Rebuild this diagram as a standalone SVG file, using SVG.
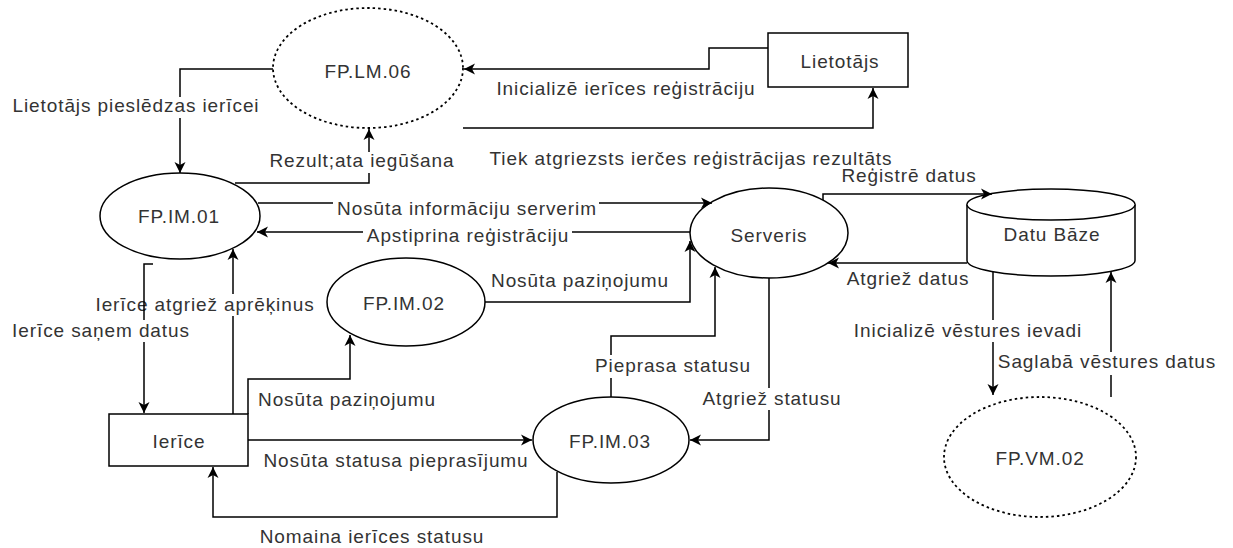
<svg xmlns="http://www.w3.org/2000/svg" width="1233" height="548" viewBox="0 0 1233 548">
  <style>
    text { font-family: "Liberation Sans", Arial, Helvetica, sans-serif; font-size: 19px; fill: #333333; letter-spacing: 0.9px; text-anchor: middle; }
    .shape { fill: #ffffff; stroke: #000000; stroke-width: 1.5; }
    .ext { fill: #ffffff; stroke: #000000; stroke-width: 1.8; stroke-dasharray: 2.5 3; }
    .flow { fill: none; stroke: #000000; stroke-width: 1.5; marker-end: url(#arrow); }
    .bg { fill: #ffffff; stroke: none; }
  </style>
  <defs>
    <marker id="arrow" viewBox="-12 -7 13 14" refX="0" refY="0" markerWidth="13" markerHeight="14" markerUnits="userSpaceOnUse" orient="auto">
      <path d="M0,0 L-11,-5.5 L-8,0 L-11,5.5 Z" fill="#000000"/>
    </marker>
  </defs>
  <rect width="1233" height="548" fill="#ffffff"/>

  <!-- processes, entities and the data store -->
  <g id="fp-lm-06">
    <ellipse class="ext" cx="368" cy="68" rx="95" ry="60"/>
    <text x="368" y="78">FP.LM.06</text>
  </g>
  <g id="lietotajs">
    <rect class="shape" x="768" y="33" width="140" height="54"/>
    <text x="840" y="68">Lietotājs</text>
  </g>
  <g id="fp-im-01">
    <ellipse class="shape" cx="180" cy="216" rx="80" ry="43"/>
    <text x="179" y="223">FP.IM.01</text>
  </g>
  <g id="serveris">
    <ellipse class="shape" cx="769" cy="233" rx="79" ry="45"/>
    <text x="769" y="242">Serveris</text>
  </g>
  <g id="datu-baze">
    <path class="shape" d="M967,204.5 A84,15.5 0 0 1 1135,204.5 V260.5 A84,15.5 0 0 1 967,260.5 Z"/>
    <path class="shape" fill="none" d="M967,204.5 A84,15.5 0 0 0 1135,204.5"/>
    <text x="1052" y="241">Datu Bāze</text>
  </g>
  <g id="fp-im-02">
    <ellipse class="shape" cx="406" cy="302" rx="79" ry="44"/>
    <text x="404" y="310">FP.IM.02</text>
  </g>
  <g id="fp-im-03">
    <ellipse class="shape" cx="611" cy="440" rx="78" ry="43"/>
    <text x="610" y="448">FP.IM.03</text>
  </g>
  <g id="ierice">
    <rect class="shape" x="109" y="414" width="139" height="52"/>
    <text x="179" y="448">Ierīce</text>
  </g>
  <g id="fp-vm-02">
    <ellipse class="ext" cx="1040" cy="457" rx="96" ry="60"/>
    <text x="1040" y="465">FP.VM.02</text>
  </g>

  <!-- data flows with their labels -->
  <g id="connectors">
    <path class="flow" d="M273,69 H180 V173"/>
    <rect class="bg" x="10" y="97" width="250" height="21"/>
    <text x="136" y="112">Lietotājs pieslēdzas ierīcei</text>

    <path class="flow" d="M235,183 H369 V129"/>
    <rect class="bg" x="265" y="152" width="192" height="21"/>
    <text x="362" y="167">Rezult;ata iegūšana</text>

    <path class="flow" d="M768,48 H709 V69 H464"/>
    <text x="626" y="95">Inicializē ierīces reģistrāciju</text>

    <path class="flow" d="M463,128 H873 V88"/>
    <text x="691" y="165">Tiek atgriezsts ierčes reģistrācijas rezultāts</text>

    <path class="flow" d="M258,203 H712"/>
    <rect class="bg" x="333" y="199" width="266" height="22"/>
    <text x="467" y="215">Nosūta informāciju serverim</text>

    <path class="flow" d="M690,232 H257"/>
    <rect class="bg" x="363" y="227" width="209" height="21"/>
    <text x="468" y="242">Apstiprina reģistrāciju</text>

    <path class="flow" d="M485,302 H690 V241"/>
    <text x="580" y="287">Nosūta paziņojumu</text>

    <path class="flow" d="M611,397 V336 H715 V267"/>
    <rect class="bg" x="593" y="355" width="160" height="23"/>
    <text x="673" y="372">Pieprasa statusu</text>

    <path class="flow" d="M769,278 V440 H690"/>
    <rect class="bg" x="701" y="388" width="141" height="22"/>
    <text x="772" y="405">Atgriež statusu</text>

    <path class="flow" d="M233,414 V249"/>
    <rect class="bg" x="93" y="294" width="222" height="22"/>
    <text x="205" y="311">Ierīce atgriež aprēķinus</text>

    <path class="flow" d="M153,264 H144 V413"/>
    <rect class="bg" x="10" y="320" width="182" height="22"/>
    <text x="101" y="337">Ierīce saņem datus</text>

    <path class="flow" d="M248,414 V379 H350 V335"/>
    <text x="347" y="406">Nosūta paziņojumu</text>

    <path class="flow" d="M248,440 H532"/>
    <text x="396" y="467">Nosūta statusa pieprasījumu</text>

    <path class="flow" d="M557,472 V517 H213 V467"/>
    <text x="372" y="543">Nomaina ierīces statusu</text>

    <path class="flow" d="M823,200 V194 H992"/>
    <text x="909" y="182">Reģistrē datus</text>

    <path class="flow" d="M967,263 H828"/>
    <text x="908" y="285">Atgriež datus</text>

    <path class="flow" d="M993,272 V395"/>
    <rect class="bg" x="850" y="320" width="234" height="22"/>
    <text x="968" y="337">Inicializē vēstures ievadi</text>

    <path class="flow" d="M1111,397 V272"/>
    <rect class="bg" x="996" y="352" width="222" height="23"/>
    <text x="1107" y="368">Saglabā vēstures datus</text>
  </g>
</svg>
